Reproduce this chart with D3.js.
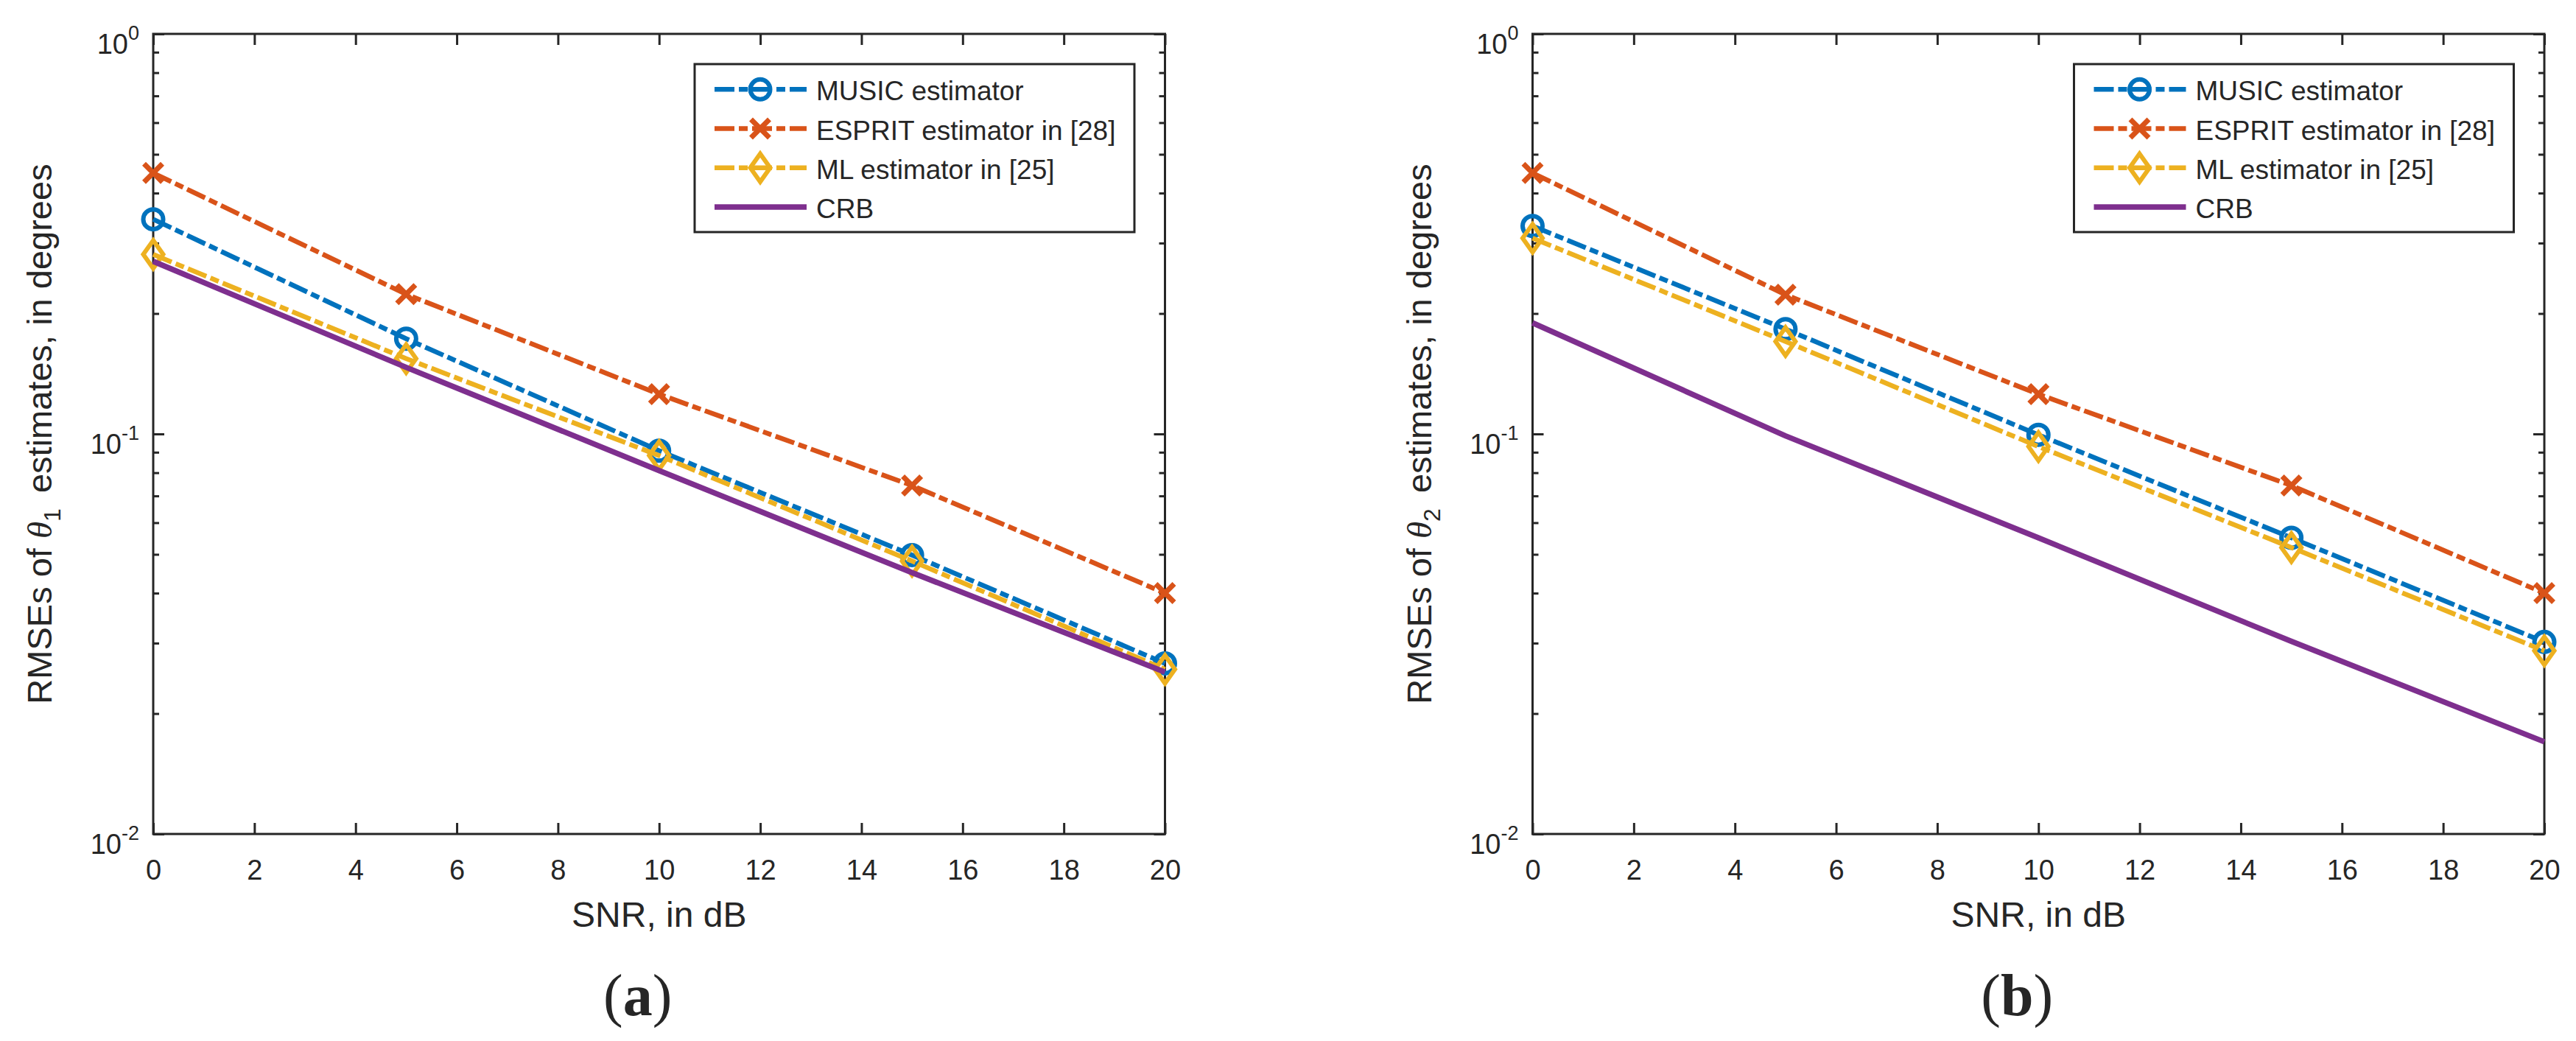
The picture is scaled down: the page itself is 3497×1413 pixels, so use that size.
<!DOCTYPE html>
<html>
<head>
<meta charset="utf-8">
<script src="https://cdn.jsdelivr.net/npm/d3@7"></script>
<style>
  html, body { margin: 0; padding: 0; background: #fff; }
  svg { display: block; }
  text { font-family: "Liberation Sans", Arial, Helvetica, sans-serif; fill: #262626; }
</style>
</head>
<body>
<svg id="chart"></svg>
<script>
// data
const snr = [0, 5, 10, 15, 20];
const xTickValues = [0, 2, 4, 6, 8, 10, 12, 14, 16, 18, 20];
const yMajorValues = [1, 0.1, 0.01];
const yTickExponents = ["0", "-1", "-2"];
const seriesNames = ["MUSIC estimator", "ESPRIT estimator in [28]", "ML estimator in [25]", "CRB"];
const panelLabels = ["(a)", "(b)"];
const thetaSubscripts = ["1", "2"];

const musicA = [0.344, 0.173, 0.0908, 0.0498, 0.0267];
const espritA = [0.449, 0.2235, 0.1257, 0.0743, 0.0400];
const mlA = [0.281, 0.1543, 0.0883, 0.0481, 0.0258];
const crbA = [0.270, 0.1467, 0.0810, 0.0450, 0.0254];

const musicB = [0.331, 0.1828, 0.0995, 0.0550, 0.0302];
const espritB = [0.449, 0.2229, 0.1257, 0.0743, 0.0400];
const mlB = [0.3085, 0.1703, 0.0930, 0.0520, 0.0287];
const crbB = [0.1895, 0.0989, 0.0550, 0.0303, 0.0170];

// layout and styles
const chartSize = { width: 3497, height: 1413 };
const plotW = 1373.5;
const plotH = 1086;
const panels = [
  { left: 208, top: 46, data: [musicA, espritA, mlA, crbA] },
  { left: 2080.5, top: 46, data: [musicB, espritB, mlB, crbB] }
];
const styles = [
  { color: "#0072BD", marker: "circle", dashed: true },
  { color: "#D95319", marker: "cross", dashed: true },
  { color: "#EDB120", marker: "diamond", dashed: true },
  { color: "#7E2F8E", marker: null, dashed: false }
];
const axisColor = "#262626";
const dashPattern = "27 6 12 6";

const svg = d3.select("#chart")
  .attr("width", chartSize.width)
  .attr("height", chartSize.height);

svg.append("rect")
  .attr("width", chartSize.width)
  .attr("height", chartSize.height)
  .attr("fill", "#fff");

const drawMarker = (sel, type, color) => {
  if (type === "circle") {
    sel.append("circle")
      .attr("r", 13.5)
      .attr("fill", "none")
      .attr("stroke", color)
      .attr("stroke-width", 6);
  } else if (type === "cross") {
    sel.append("path")
      .attr("d", "M-12.5,-12.5L12.5,12.5M-12.5,12.5L12.5,-12.5")
      .attr("fill", "none")
      .attr("stroke", color)
      .attr("stroke-width", 7);
  } else if (type === "diamond") {
    sel.append("path")
      .attr("d", "M0,-19L13.5,0L0,19L-13.5,0Z")
      .attr("fill", "none")
      .attr("stroke", color)
      .attr("stroke-width", 6)
      .attr("stroke-linejoin", "miter");
  }
};

const styleAxis = axisG => {
  axisG.select(".domain").remove();
  axisG.selectAll("line")
    .attr("stroke", axisColor)
    .attr("stroke-width", 3);
  axisG.selectAll("text")
    .style("font-size", "38px")
    .attr("fill", axisColor)
    .attr("font-family", null);
};

const drawPanel = (panel, idx) => {
  const g = svg.append("g")
    .attr("transform", `translate(${panel.left}, ${panel.top})`);

  const x = d3.scaleLinear().domain([0, 20]).range([0, plotW]);
  const y = d3.scaleLog().domain([0.01, 1]).range([plotH, 0]);

  const isMajor = v => Math.abs(Math.log10(v) - Math.round(Math.log10(v))) < 1e-9;
  const minorValues = y.ticks().filter(v => !isMajor(v));

  // box
  g.append("rect")
    .attr("width", plotW)
    .attr("height", plotH)
    .attr("fill", "none")
    .attr("stroke", axisColor)
    .attr("stroke-width", 3);

  // x axes
  g.append("g")
    .attr("class", "x-axis")
    .attr("transform", `translate(0, ${plotH})`)
    .call(d3.axisBottom(x).tickValues(xTickValues).tickSize(-15).tickSizeOuter(0)
      .tickPadding(35).tickFormat(d3.format("d")))
    .call(styleAxis);

  g.append("g")
    .call(d3.axisTop(x).tickValues(xTickValues).tickSize(-15).tickSizeOuter(0).tickFormat(""))
    .call(styleAxis);

  // y axes, majors and minors, left and right
  g.append("g")
    .call(d3.axisLeft(y).tickValues(yMajorValues).tickSize(-15).tickSizeOuter(0).tickFormat(""))
    .call(styleAxis);
  g.append("g")
    .call(d3.axisLeft(y).tickValues(minorValues).tickSize(-8).tickSizeOuter(0).tickFormat(""))
    .call(styleAxis);
  g.append("g")
    .attr("transform", `translate(${plotW}, 0)`)
    .call(d3.axisRight(y).tickValues(yMajorValues).tickSize(-15).tickSizeOuter(0).tickFormat(""))
    .call(styleAxis);
  g.append("g")
    .attr("transform", `translate(${plotW}, 0)`)
    .call(d3.axisRight(y).tickValues(minorValues).tickSize(-8).tickSizeOuter(0).tickFormat(""))
    .call(styleAxis);

  // y tick labels 10^k
  g.selectAll(".y-label-tick")
    .data(yMajorValues)
    .join("text")
    .attr("class", "y-label-tick")
    .attr("x", -19)
    .attr("y", d => y(d) + 27)
    .attr("text-anchor", "end")
    .style("font-size", "38px")
    .each(function(d, i) {
      const t = d3.select(this);
      t.append("tspan").text("10");
      t.append("tspan").attr("dy", -19).style("font-size", "27px").text(yTickExponents[i]);
    });

  // axis labels
  g.append("text")
    .attr("x", plotW / 2)
    .attr("y", plotH + 126)
    .attr("text-anchor", "middle")
    .style("font-size", "48px")
    .text("SNR, in dB");

  const yLabel = g.append("text")
    .attr("transform", `translate(-138, ${plotH / 2}) rotate(-90)`)
    .attr("text-anchor", "middle")
    .style("font-size", "47px");
  yLabel.append("tspan").text("RMSEs of ");
  yLabel.append("tspan")
    .style("font-family", "'Liberation Serif', 'Times New Roman', serif")
    .style("font-style", "italic")
    .text("θ");
  yLabel.append("tspan").attr("dy", 12).style("font-size", "32px").text(thetaSubscripts[idx]);
  yLabel.append("tspan").attr("dy", -12).attr("dx", 8).text(" estimates, in degrees");

  // panel label
  const pl = g.append("text")
    .attr("x", plotW / 2 - 29)
    .attr("y", plotH + 246)
    .attr("text-anchor", "middle")
    .style("font-family", "'Liberation Serif', 'Times New Roman', serif")
    .style("font-size", "80px")
    .attr("fill", "#000");
  const lab = panelLabels[idx];
  pl.append("tspan").text(lab[0]);
  pl.append("tspan").style("font-weight", "bold").text(lab[1]);
  pl.append("tspan").text(lab[2]);

  // series
  const line = d3.line()
    .x(d => x(d[0]))
    .y(d => y(d[1]));

  panel.data.forEach((values, si) => {
    const st = styles[si];
    const pts = snr.map((s, k) => [s, values[k]]);
    g.append("path")
      .datum(pts)
      .attr("d", line)
      .attr("fill", "none")
      .attr("stroke", st.color)
      .attr("stroke-width", st.dashed ? 6.5 : 7.5)
      .attr("stroke-dasharray", st.dashed ? dashPattern : null)
      .attr("stroke-linejoin", "round");
    if (st.marker) {
      g.selectAll(`.m${si}`)
        .data(pts)
        .join("g")
        .attr("class", `m${si}`)
        .attr("transform", d => `translate(${x(d[0])}, ${y(d[1])})`)
        .each(function() { drawMarker(d3.select(this), st.marker, st.color); });
    }
  });

  // legend
  const lg = g.append("g").attr("transform", "translate(735, 41)");
  lg.append("rect")
    .attr("width", 597)
    .attr("height", 228)
    .attr("fill", "#fff")
    .attr("stroke", axisColor)
    .attr("stroke-width", 3);

  seriesNames.forEach((name, si) => {
    const st = styles[si];
    const rowY = 34.3 + 53.2 * si;
    lg.append("line")
      .attr("x1", 27)
      .attr("x2", 152)
      .attr("y1", rowY)
      .attr("y2", rowY)
      .attr("stroke", st.color)
      .attr("stroke-width", st.dashed ? 6.5 : 7.5)
      .attr("stroke-dasharray", st.dashed ? dashPattern : null);
    if (st.marker) {
      const mg = lg.append("g").attr("transform", `translate(89, ${rowY})`);
      drawMarker(mg, st.marker, st.color);
    }
    lg.append("text")
      .attr("x", 165)
      .attr("y", rowY + 15)
      .style("font-size", "37px")
      .attr("fill", "#000")
      .text(name);
  });
};

panels.forEach(drawPanel);
</script>
</body>
</html>
